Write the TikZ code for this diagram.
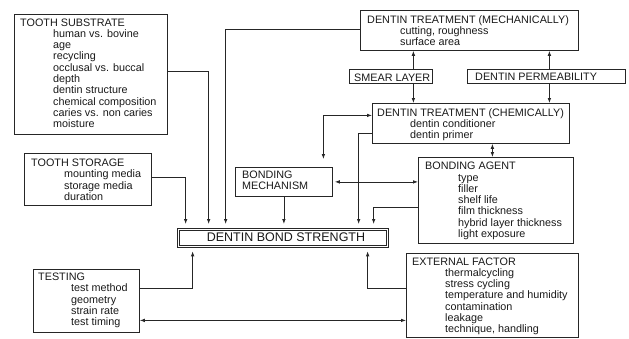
\documentclass[tikz,border=0pt]{standalone}
\usepackage{fontspec}
\setmainfont{Liberation Sans}
\usetikzlibrary{arrows.meta}
\newcommand{\ind}{\hspace*{33pt}}
\begin{document}
\begin{tikzpicture}[x=1pt,y=-1pt,
    box/.style={draw=black!85,line width=.8pt,inner sep=0pt,anchor=north west},
    txt/.style={inner sep=0pt,anchor=north west,align=left,text=black!90,
                font=\fontsize{10.8}{11.3}\selectfont},
    con/.style={draw=black!85,line width=.8pt},
    arr/.style={con,-{Latex[length=5pt,width=3.6pt]}},
    dblarr/.style={con,{Latex[length=5pt,width=3.6pt]}-{Latex[length=5pt,width=3.6pt]}}]
    \useasboundingbox (0,0) rectangle (629,338);
    %boxes
    \node[box,minimum width=153pt,minimum height=120pt](subst) at (14,14){};
    \node[box,minimum width=127pt,minimum height=52pt](storage) at (24,153){};
    \node[box,minimum width=106pt,minimum height=63pt](testing) at (33,269){};
    \node[box,minimum width=218pt,minimum height=40pt](mech) at (360,10){};
    \node[box,minimum width=83pt,minimum height=14pt](smear) at (349,69){};
    \node[box,minimum width=158pt,minimum height=14pt](perm) at (467,69){};
    \node[box,minimum width=197pt,minimum height=40pt](chem) at (372,103){};
    \node[box,minimum width=97pt,minimum height=29pt](mechanism) at (235,167){};
    \node[box,minimum width=155pt,minimum height=86pt](agent) at (418,157){};
    \node[box,minimum width=172pt,minimum height=84pt](external) at (406,253){};
    \node[box,line width=1.3pt,minimum width=211pt,minimum height=19pt](dbs) at (176.5,227.5){};
    \draw[con,line width=.6pt]([xshift=2.6pt,yshift=-2.6pt]dbs.north west) rectangle ([xshift=-2.6pt,yshift=2.6pt]dbs.south east);
    %texts
    \node[txt](substtxt) at (20,18.3){TOOTH SUBSTRATE\\
        \ind human vs. bovine\\ \ind age\\ \ind recycling\\
        \ind occlusal vs. buccal\\ \ind depth\\ \ind dentin structure\\
        \ind chemical composition\\ \ind caries vs. non caries\\ \ind moisture};
    \node[txt](storagetxt) at (31,158.7){TOOTH STORAGE\\
        \ind mounting media\\ \ind storage media\\ \ind duration};
    \node[txt](testingtxt) at (38,272.7){TESTING\\
        \ind test method\\ \ind geometry\\ \ind strain rate\\ \ind test timing};
    \node[txt](mechtxt) at (367,15){DENTIN TREATMENT (MECHANICALLY)\\
        \ind cutting, roughness\\ \ind surface area};
    \node[txt](smeartxt) at (354,73.3){SMEAR LAYER};
    \node[txt](permtxt) at (475,73.3){DENTIN PERMEABILITY};
    \node[txt](chemtxt) at (377,108){DENTIN TREATMENT (CHEMICALLY)\\
        \ind dentin conditioner\\ \ind dentin primer};
    \node[txt](mechanismtxt) at (242,170.7){BONDING\\MECHANISM};
    \node[txt](agenttxt) at (425,162){BONDING AGENT\\
        \ind type\\ \ind filler\\ \ind shelf life\\ \ind film thickness\\
        \ind hybrid layer thickness\\ \ind light exposure};
    \node[txt](externaltxt) at (412,257.3){EXTERNAL FACTOR\\
        \ind thermalcycling\\ \ind stress cycling\\ \ind temperature and humidity\\
        \ind contamination\\ \ind leakage\\ \ind technique, handling};
    \node[txt,anchor=center,font=\fontsize{12.5}{14}\selectfont](dbstxt) at (286,237){DENTIN BOND STRENGTH};
    %into bond strength
    \draw[arr,shorten >=3.5pt]([yshift=3pt]subst.east) -| ([xshift=-74pt]dbs.north);
    \draw[arr,shorten >=3.5pt]([yshift=2pt]storage.east) -| ([xshift=-97pt]dbs.north);
    \draw[arr,shorten >=3.5pt]([yshift=1pt]mech.west) -| ([xshift=-57pt]dbs.north);
    \draw[arr,shorten >=3.5pt](mechanism.south) -- (mechanism.south |- dbs.north);
    \draw[arr,shorten >=3.5pt]([yshift=-10pt]chem.west) -| ([xshift=76pt]dbs.north);
    \draw[arr,shorten >=3.5pt]([yshift=-7pt]agent.west) -| ([xshift=91pt]dbs.north);
    \draw[arr,shorten >=3.5pt]([yshift=12.5pt]testing.east) -| ([xshift=-90pt]dbs.south);
    \draw[arr,shorten >=3.5pt]([yshift=7pt]external.west) -| ([xshift=85pt]dbs.south);
    \draw[dblarr]([yshift=-19.5pt]testing.east) -- ([yshift=-19.5pt]testing.east -| external.west);
    %smear layer, permeability
    \draw[arr]([xshift=22.5pt]smear.north) -- ([xshift=22.5pt]smear.north |- mech.south);
    \draw[arr]([xshift=22.5pt]smear.south) -- ([xshift=22.5pt]smear.south |- chem.north);
    \draw[arr]([xshift=3pt]perm.north) -- ([xshift=3pt]perm.north |- mech.south);
    \draw[arr]([xshift=3pt]perm.south) -- ([xshift=3pt]perm.south |- chem.north);
    %mechanism, agent
    \draw[dblarr,shorten >=8pt]([yshift=8pt]chem.west) -| ([xshift=39.5pt]mechanism.north);
    \draw[dblarr]([xshift=21.5pt]chem.south) -- ([xshift=21.5pt]chem.south |- agent.north);
    \draw[dblarr,shorten <=2pt](mechanism.east) -- (mechanism.east -| agent.west);
\end{tikzpicture}
\end{document}
